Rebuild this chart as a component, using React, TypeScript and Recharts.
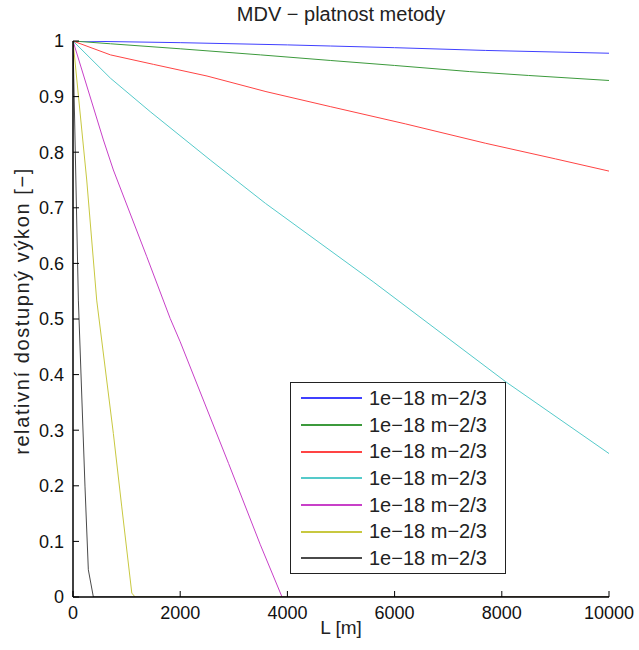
import React from 'react';
import { LineChart, Line, XAxis, YAxis, Legend } from 'recharts';

const xTicks = [0, 2000, 4000, 6000, 8000, 10000];
const yTicks = [0, 0.1, 0.2, 0.3, 0.4, 0.5, 0.6, 0.7, 0.8, 0.9, 1];

const seriesNames = [
  '1e−18 m−2/3',
  '1e−18 m−2/3',
  '1e−18 m−2/3',
  '1e−18 m−2/3',
  '1e−18 m−2/3',
  '1e−18 m−2/3',
  '1e−18 m−2/3',
];
const seriesColors = ['#4040ff', '#3c9a3c', '#ff4444', '#55caca', '#c840c8', '#c8c840', '#4a4a4a'];

const blueL = [0, 2000, 4000, 4800, 6000, 7700, 10000];
const blueV = [1, 0.997, 0.993, 0.991, 0.988, 0.983, 0.978];

const greenL = [0, 700, 2000, 3500, 4800, 6000, 7400, 8500, 10000];
const greenV = [1, 0.995, 0.986, 0.975, 0.965, 0.956, 0.945, 0.938, 0.929];

const redL = [0, 700, 1500, 2500, 3600, 4800, 6200, 7700, 9000, 10000];
const redV = [1, 0.975, 0.958, 0.937, 0.909, 0.882, 0.851, 0.816, 0.788, 0.766];

const cyanL = [0, 700, 1440, 2560, 3590, 5600, 8075, 10000];
const cyanV = [1, 0.933, 0.873, 0.786, 0.708, 0.567, 0.387, 0.258];

const magentaL = [0, 567, 753, 1377, 1813, 2000, 2903, 3495, 3900, 10000];
const magentaV = [1, 0.822, 0.768, 0.612, 0.501, 0.459, 0.24, 0.094, 0, 0];

const yellowL = [0, 256, 442, 753, 910, 1097, 1159, 10000];
const yellowV = [1, 0.75, 0.534, 0.294, 0.162, 0.007, 0, 0];

const blackL = [0, 100, 224, 286, 380, 10000];
const blackV = [1, 0.534, 0.198, 0.049, 0, 0];

const seriesL = [blueL, greenL, redL, cyanL, magentaL, yellowL, blackL];
const seriesV = [blueV, greenV, redV, cyanV, magentaV, yellowV, blackV];

const seriesData = seriesL.map((ls, i) => ls.map((L, j) => ({ L, v: seriesV[i][j] })));

const FONT = '"Liberation Sans", Arial, sans-serif';

const LegendBox = () => (
  <div
    style={{
      boxSizing: 'border-box',
      width: 216,
      height: 192,
      border: '1px solid #222',
      background: '#fff',
      paddingTop: 2,
      fontFamily: FONT,
    }}
  >
    {seriesNames.map((n, i) => (
      <div key={i} style={{ height: 26.7, display: 'flex', alignItems: 'center' }}>
        <div style={{ width: 61, height: 2, background: seriesColors[i], marginLeft: 10 }} />
        <span style={{ marginLeft: 7, fontSize: 20, color: '#222', whiteSpace: 'nowrap' }}>{n}</span>
      </div>
    ))}
  </div>
);

const blank = () => '';

export default function App() {
  const tickStyle = { fill: '#111', fontSize: 18, fontFamily: FONT };
  return (
    <div style={{ position: 'absolute', left: 0, top: 0, width: 639, height: 650, background: '#fff', fontFamily: FONT }}>
      <div
        style={{
          position: 'absolute',
          left: 73,
          width: 536,
          top: 3,
          textAlign: 'center',
          fontSize: 20,
          color: '#222',
        }}
      >
        MDV − platnost metody
      </div>
      <div
        style={{
          position: 'absolute',
          left: 341 - 100,
          width: 200,
          top: 617,
          textAlign: 'center',
          fontSize: 19,
          color: '#222',
        }}
      >
        L [m]
      </div>
      <div
        style={{
          position: 'absolute',
          left: 22 - 200,
          top: 311 - 12,
          width: 400,
          height: 24,
          lineHeight: '24px',
          textAlign: 'center',
          fontSize: 20,
          letterSpacing: 1.6,
          color: '#222',
          transform: 'rotate(-90deg)',
          transformOrigin: '200px 12px',
          whiteSpace: 'nowrap',
        }}
      >
        relativní dostupný výkon [−]
      </div>
      <LineChart width={639} height={650} margin={{ top: 41, right: 30, bottom: 23, left: 13 }}>
        <XAxis
          xAxisId="b"
          type="number"
          dataKey="L"
          domain={[0, 10000]}
          ticks={xTicks}
          allowDataOverflow
          height={30}
          tickSize={-6}
          tickMargin={15}
          tick={tickStyle}
          axisLine={{ stroke: '#000', strokeWidth: 1.5 }}
          tickLine={{ stroke: '#000' }}
          interval={0}
        />
        <XAxis
          xAxisId="t"
          orientation="top"
          type="number"
          dataKey="L"
          domain={[0, 10000]}
          ticks={xTicks}
          allowDataOverflow
          height={0}
          tickSize={-6}
          tickFormatter={blank}
          axisLine={{ stroke: '#000', strokeWidth: 1.5 }}
          tickLine={{ stroke: '#000' }}
          interval={0}
        />
        <YAxis
          yAxisId="l"
          type="number"
          domain={[0, 1]}
          ticks={yTicks}
          allowDataOverflow
          width={60}
          tickSize={-6}
          tickMargin={15}
          tick={tickStyle}
          axisLine={{ stroke: '#000', strokeWidth: 1.5 }}
          tickLine={{ stroke: '#000' }}
          interval={0}
        />
        <YAxis
          yAxisId="r"
          orientation="right"
          type="number"
          domain={[0, 1]}
          ticks={yTicks}
          allowDataOverflow
          width={0}
          tickSize={-6}
          tickFormatter={blank}
          axisLine={{ stroke: '#000', strokeWidth: 1.5 }}
          tickLine={{ stroke: '#000' }}
          interval={0}
        />
        {seriesData.map((d, i) => (
          <Line
            key={i}
            xAxisId="b"
            yAxisId="l"
            data={d}
            dataKey="v"
            name={seriesNames[i]}
            type="linear"
            stroke={seriesColors[i]}
            strokeWidth={1}
            dot={false}
            activeDot={false}
            isAnimationActive={false}
          />
        ))}
        <Legend
          layout="horizontal"
          verticalAlign="middle"
          align="center"
          content={() => <LegendBox />}
          wrapperStyle={{ left: 290, top: 382, width: 216, height: 192 }}
        />
      </LineChart>
    </div>
  );
}
